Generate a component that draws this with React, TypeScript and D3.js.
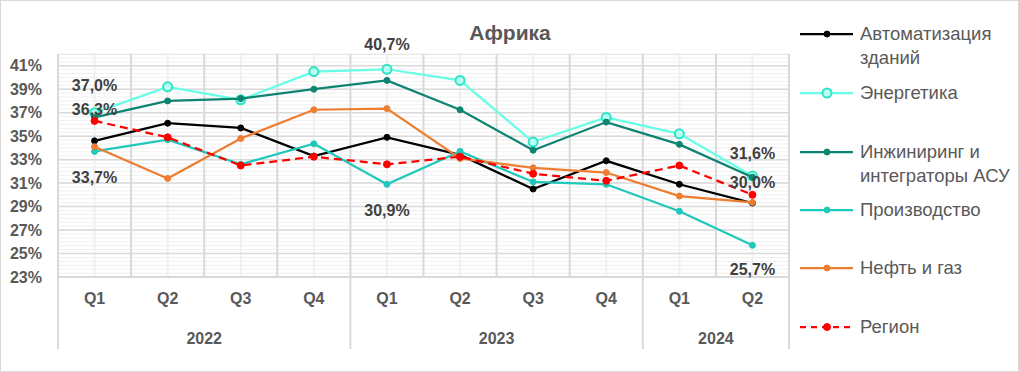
import React from 'react';
import * as d3 from 'd3';

const quarters = ['Q1', 'Q2', 'Q3', 'Q4', 'Q1', 'Q2', 'Q3', 'Q4', 'Q1', 'Q2'];
const years = [
  { label: '2022', from: 0, to: 4 },
  { label: '2023', from: 4, to: 8 },
  { label: '2024', from: 8, to: 10 },
];

const automation = [34.6, 36.1, 35.7, 33.3, 34.9, 33.4, 30.5, 32.9, 30.9, 29.3];
const energy = [37.0, 39.2, 38.1, 40.5, 40.7, 39.75, 34.5, 36.6, 35.2, 31.6];
const engineering = [36.6, 38.0, 38.2, 39.0, 39.75, 37.25, 33.8, 36.2, 34.3, 31.5];
const production = [33.7, 34.7, 32.6, 34.35, 30.9, 33.7, 31.1, 30.9, 28.6, 25.7];
const oilGas = [34.1, 31.4, 34.8, 37.25, 37.35, 33.1, 32.3, 31.9, 29.9, 29.35];
const region = [36.3, 34.9, 32.5, 33.25, 32.6, 33.25, 31.8, 31.2, 32.5, 30.0];

const yTicks = [23, 25, 27, 29, 31, 33, 35, 37, 39, 41];

const series = [
  { name: ['Автоматизация', 'зданий'], values: automation, color: '#000000', dash: '', r: 3, fill: '#000000', labels: [] as number[] },
  { name: ['Энергетика'], values: energy, color: '#66FFE6', dash: '', r: 4.5, fill: '#B8FFF2', stroke: '#2EE3C6', labels: [0, 4, 9] },
  { name: ['Инжиниринг и', 'интеграторы АСУ'], values: engineering, color: '#0D8471', dash: '', r: 3, fill: '#0D8471', labels: [] as number[] },
  { name: ['Производство'], values: production, color: '#1FC8BA', dash: '', r: 3, fill: '#1FC8BA', labels: [0, 4, 9] },
  { name: ['Нефть и газ'], values: oilGas, color: '#ED7D31', dash: '', r: 3, fill: '#ED7D31', labels: [] as number[] },
  { name: ['Регион'], values: region, color: '#FF0000', dash: '8,5', r: 3.5, fill: '#FF0000', labels: [0, 9] },
];

// where the data label sits relative to its point: dy offset
const labelOffsets: Record<string, number[]> = {
  'Энергетика': [-27, -25, -23],
  'Производство': [26, 26, 24],
  'Регион': [-12, -12],
};

const font = '"Liberation Sans", Arial, sans-serif';

export default function App() {
  const width = 1019;
  const height = 372;
  const plot = { left: 58, right: 789, top: 54, bottom: 277 };

  const x = d3.scaleBand<number>().domain(d3.range(quarters.length)).range([plot.left, plot.right]);
  const y = d3.scaleLinear().domain([23, 42]).range([plot.bottom, plot.top]);
  const cx = (i: number) => (x(i) as number) + x.bandwidth() / 2;

  const minorTicks = d3.range(23, 42.01, 1 / 3);

  const line = d3.line<number>().x((_, i) => cx(i)).y(d => y(d));
  const fmt = (v: number) => v.toFixed(1).replace('.', ',') + '%';

  const legendX = 800;
  const legendY = [34, 93, 152, 210, 268, 327];

  return (
    <svg width={width} height={height} style={{ position: 'absolute', left: 0, top: 0, fontFamily: font }}>
      <rect x={0.5} y={0.5} width={width - 1} height={height - 1} fill="#fff" stroke="#D9D9D9" />
      <text x={510} y={40} textAnchor="middle" fontSize={21} fontWeight="bold" fill="#595959">Африка</text>

      {/* minor gridlines */}
      {minorTicks.map((t, i) => (
        <line key={'mn' + i} x1={plot.left} x2={plot.right} y1={y(t)} y2={y(t)} stroke="#F0F0F0" strokeWidth={1} />
      ))}
      {quarters.map((_, i) => (
        <line key={'vc' + i} x1={cx(i)} x2={cx(i)} y1={plot.top} y2={plot.bottom} stroke="#F0F0F0" strokeWidth={2} />
      ))}
      {/* major gridlines */}
      {yTicks.map(t => (
        <line key={'mj' + t} x1={plot.left} x2={plot.right} y1={y(t)} y2={y(t)} stroke="#D9D9D9" strokeWidth={1.5} />
      ))}
      <line x1={plot.left} x2={plot.right} y1={plot.top + 0.5} y2={plot.top + 0.5} stroke="#E6E6E6" />
      {d3.range(quarters.length + 1).map(i => {
        const xx = i === quarters.length ? plot.right : (x(i) as number);
        return <line key={'vb' + i} x1={xx} x2={xx} y1={plot.top} y2={plot.bottom} stroke="#D9D9D9" strokeWidth={2} />;
      })}

      {/* y axis labels */}
      {yTicks.map(t => (
        <text key={'yt' + t} x={42} y={y(t)} dy="0.35em" textAnchor="end" fontSize={16} fontWeight="bold" fill="#595959">{t}%</text>
      ))}

      {/* category axis */}
      <line x1={plot.left} x2={plot.right} y1={plot.bottom} y2={plot.bottom} stroke="#D9D9D9" strokeWidth={2} />
      {quarters.map((q, i) => (
        <text key={'q' + i} x={cx(i)} y={298} dy="0.35em" textAnchor="middle" fontSize={16} fontWeight="bold" fill="#595959">{q}</text>
      ))}
      {years.map(g => {
        const x0 = x(g.from) as number;
        const x1 = g.to === quarters.length ? plot.right : (x(g.to) as number);
        return (
          <g key={g.label}>
            <text x={(x0 + x1) / 2} y={338} dy="0.35em" textAnchor="middle" fontSize={16} fontWeight="bold" fill="#595959">{g.label}</text>
          </g>
        );
      })}
      {[0, 4, 8, 10].map(i => {
        const xx = i === quarters.length ? plot.right : (x(i) as number);
        return <line key={'ys' + i} x1={xx} x2={xx} y1={plot.bottom} y2={349} stroke="#D9D9D9" strokeWidth={2} />;
      })}

      {/* series */}
      {series.map(s => (
        <g key={s.name.join(' ')}>
          <path d={line(s.values) ?? ''} fill="none" stroke={s.color} strokeWidth={2.25} strokeDasharray={s.dash || undefined} />
          {s.values.map((v, i) => (
            <circle key={i} cx={cx(i)} cy={y(v)} r={s.r} fill={s.fill} stroke={s.stroke || s.fill} strokeWidth={s.stroke ? 2 : 1} />
          ))}
        </g>
      ))}

      {/* data labels */}
      {series.map(s => s.labels.map((idx, k) => (
        <text key={s.name[0] + idx} x={cx(idx)} y={y(s.values[idx]) + labelOffsets[s.name[0]][k]} dy="0.35em" textAnchor="middle" fontSize={16} fontWeight="bold" fill="#404040">{fmt(s.values[idx])}</text>
      )))}

      {/* legend */}
      {series.map((s, i) => (
        <g key={'lg' + i} transform={`translate(${legendX},${legendY[i]})`}>
          <line x1={0} x2={53} y1={0} y2={0} stroke={s.color} strokeWidth={2.25} strokeDasharray={s.dash ? '6,5' : undefined} />
          <circle cx={27} cy={0} r={s.r} fill={s.fill} stroke={s.stroke || s.fill} strokeWidth={s.stroke ? 2 : 1} />
          {s.name.map((n, k) => (
            <text key={k} x={60} y={k * 24} dy="0.35em" fontSize={18.5} fill="#595959">{n}</text>
          ))}
        </g>
      ))}
    </svg>
  );
}
